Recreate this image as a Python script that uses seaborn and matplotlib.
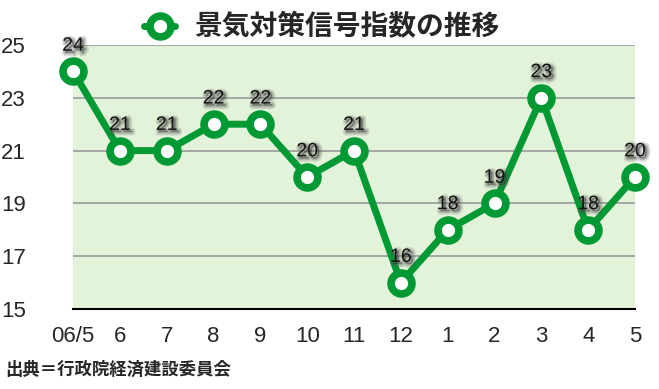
import numpy as np
import pandas as pd
import matplotlib
matplotlib.use("Agg")
import matplotlib.pyplot as plt
import matplotlib.patheffects as pe
import matplotlib.transforms as mtrans
import seaborn as sns

# data
months = ["06/5", "6", "7", "8", "9", "10", "11", "12", "1", "2", "3", "4", "5"]
values = [24, 21, 21, 22, 22, 20, 21, 16, 18, 19, 23, 18, 20]
y_ticks = [15, 17, 19, 21, 23, 25]

title = "景気対策信号指数の推移"
source = "出典＝行政院経済建設委員会"

sns.set_theme(style="white")
plt.rcParams['font.family'] = ['Noto Sans CJK JP', 'DejaVu Sans']

green = "#009933"
df = pd.DataFrame({"pos": np.arange(len(values)), "value": values})

fig = plt.figure(figsize=(6.59, 3.89), dpi=100)
ax = fig.add_axes([0.111, 0.2057, 0.8526, 0.6786])
ax.set_facecolor("#e3f3d9")

for t in y_ticks[1:]:
    ax.axhline(t, color="#999999", lw=1.2, zorder=1)

sns.lineplot(data=df, x="pos", y="value", ax=ax, color=green, lw=5,
             marker="o", markersize=15, markerfacecolor="white",
             markeredgecolor=green, markeredgewidth=5.5, zorder=3,
             label=title, clip_on=False)

# labels with soft shadow
lift = mtrans.ScaledTranslation(0, 12/72, fig.dpi_scale_trans)
for i, v in enumerate(values):
    ax.text(i, v, str(v), ha="center", va="bottom", fontsize=14,
            color="#111111", zorder=4, family="Liberation Sans",
            transform=ax.transData + lift,
            path_effects=[pe.Stroke(linewidth=5, foreground="#555555", alpha=0.18, offset=(1.5, -1.5)),
                          pe.Stroke(linewidth=2.5, foreground="#555555", alpha=0.3, offset=(1.5, -1.5)),
                          pe.Normal()])

ax.set_xlim(0, len(values) - 1)
ax.set_ylim(15, 25)
ax.set_yticks(y_ticks)
ax.set_xticks(range(len(months)))
ax.set_xticklabels(months)
ax.tick_params(axis="x", length=0, pad=12, labelsize=16)
ax.tick_params(axis="y", length=0, pad=34, labelsize=16)
for lab in ax.get_xticklabels() + ax.get_yticklabels():
    lab.set_family("Liberation Sans")
ax.set_xlabel("")
ax.set_ylabel("")
for s in ["top", "right", "left"]:
    ax.spines[s].set_visible(False)
ax.spines["bottom"].set_color("black")
ax.spines["bottom"].set_linewidth(1.5)

ax.legend(loc="upper center", bbox_to_anchor=(0.443, 1.215), frameon=False,
          handlelength=1.1, handletextpad=0.7,
          prop={"size": 20, "weight": "bold", "family": ["Noto Sans CJK JP", "DejaVu Sans"]})

fig.text(0.008, 0.027, source, fontsize=12.5, fontweight="bold", ha="left", va="bottom")

fig.savefig("out.png", dpi=100)
